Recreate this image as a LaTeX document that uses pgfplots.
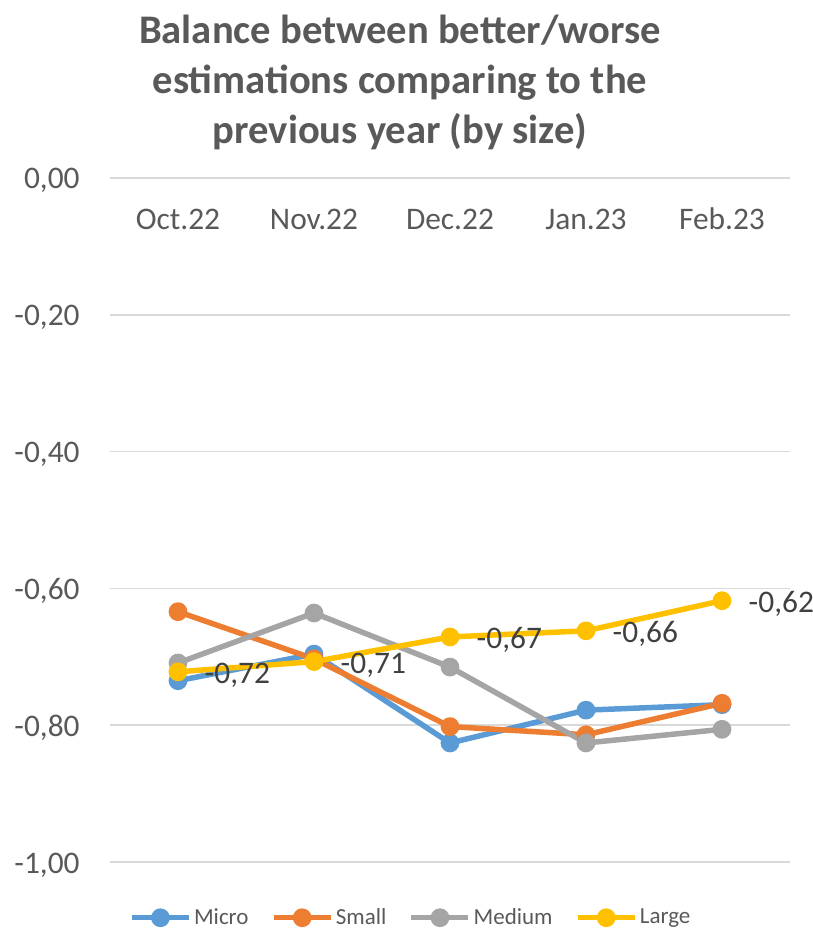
\documentclass[border=0pt]{standalone}
\usepackage{pgfplots}
\pgfplotsset{compat=1.18}
\usepackage{fontspec}
\setmainfont{Carlito}

\definecolor{microc}{HTML}{5B9BD5}
\definecolor{smallc}{HTML}{ED7D31}
\definecolor{mediumc}{HTML}{A5A5A5}
\definecolor{largec}{HTML}{FFC000}
\definecolor{gridc}{HTML}{D9D9D9}
\definecolor{textc}{HTML}{595959}
\definecolor{labelc}{HTML}{404040}

\begin{document}
\begin{tikzpicture}
\begin{axis}[
  scale only axis,
  width=340pt, height=342pt,
  xmin=-0.5, xmax=4.5,
  ymin=-1, ymax=0,
  clip=false,
  xtick={0,1,2,3,4},
  xticklabels={Oct.22,Nov.22,Dec.22,Jan.23,Feb.23},
  xticklabel pos=upper,
  ytick={-1,-0.8,-0.6,-0.4,-0.2,0},
  major tick length=0pt,
  axis line style={draw=none},
  ymajorgrids,
  grid style={gridc, line width=0.75pt},
  /pgf/number format/.cd, use comma, fixed, fixed zerofill, precision=2, assume math mode=true,
  /pgfplots/.cd,
  xticklabel style={anchor=base, yshift=-26pt, inner sep=0pt, font=\fontsize{15.7}{18}\selectfont, text=textc},
  yticklabel style={anchor=base east, xshift=-15pt, yshift=-5.5pt, inner sep=0pt, font=\fontsize{15.7}{18}\selectfont, text=textc},
  every axis plot/.append style={line width=2.75pt, line join=round, mark=*, mark size=3.3pt, mark options={solid}},
  legend columns=4,
  legend style={at={(rel axis cs:0.4426,-0.0815)}, anchor=center, draw=none, fill=none,
    font=\fontsize{11.5}{13}\selectfont, text=textc,
    /tikz/every even column/.append style={column sep=10pt},
    nodes={inner sep=1.2pt}},
  legend image code/.code={\draw[#1, mark repeat=2, mark phase=2] plot coordinates {(0pt,0pt) (14.25pt,0pt) (28.5pt,0pt)};},
]
% Micro
\addplot[color=microc] coordinates {(0,-0.735) (1,-0.696) (2,-0.826) (3,-0.778) (4,-0.770)};
% Small
\addplot[color=smallc] coordinates {(0,-0.634) (1,-0.703) (2,-0.802) (3,-0.814) (4,-0.768)};
% Medium
\addplot[color=mediumc] coordinates {(0,-0.709) (1,-0.636) (2,-0.715) (3,-0.826) (4,-0.806)};
% Large, with value labels
\addplot[color=largec,
  nodes near coords,
  every node near coord/.style={anchor=base west, xshift=12pt, yshift=-6pt, inner sep=0pt,
    font=\fontsize{15.7}{18}\selectfont, text=labelc}]
  coordinates {(0,-0.722) (1,-0.707) (2,-0.671) (3,-0.662) (4,-0.618)};
\legend{Micro,Small,Medium,Large}

\node[anchor=north, inner sep=0pt, align=center, text=textc,
  font=\bfseries\fontsize{20.3}{25}\selectfont]
  at (rel axis cs:0.4265,1.2383) {Balance between better/worse\\estimations comparing to the\\previous year (by size)};
\end{axis}
\pgfresetboundingbox
\path[use as bounding box] ([shift={(-55pt,-33pt)}]current axis.south west) rectangle ([shift={(11.5pt,89pt)}]current axis.north east);
\end{tikzpicture}
\end{document}
